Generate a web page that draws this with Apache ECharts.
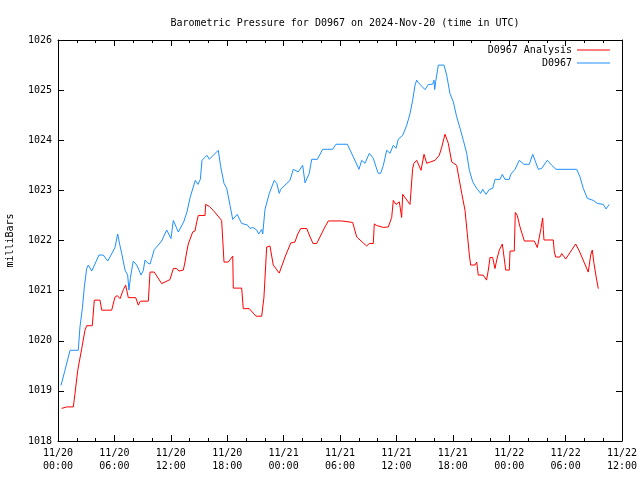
<!DOCTYPE html>
<html><head><meta charset="utf-8">
<script src="https://cdn.jsdelivr.net/npm/echarts@6/dist/echarts.min.js"></script>
<style>html,body{margin:0;padding:0;background:#fff}#c{width:640px;height:480px}</style>
</head><body><div id="c"></div>
<script>
// hours since 2024-11-20 00:00 UTC
const xTickLabels = ['11/20\n00:00','11/20\n06:00','11/20\n12:00','11/20\n18:00','11/21\n00:00','11/21\n06:00','11/21\n12:00','11/21\n18:00','11/22\n00:00','11/22\n06:00','11/22\n12:00'];
const yTickLabels = ['1018','1019','1020','1021','1022','1023','1024','1025','1026'];

const analysisHours = [0.39,0.93,1.63,1.81,2.10,2.52,2.87,3.05,3.65,3.86,4.47,4.65,5.71,6.06,6.31,6.60,6.95,7.20,7.31,7.48,8.27,8.54,8.76,9.61,9.79,10.24,11.03,11.20,11.91,12.10,12.27,12.63,12.87,13.33,13.51,13.69,13.86,14.04,14.33,14.57,14.76,14.93,15.64,15.71,16.10,16.52,17.41,17.59,17.66,18.12,18.59,18.65,19.54,19.71,20.35,21.06,21.67,21.91,22.20,22.55,22.90,23.54,24.15,24.76,25.21,25.46,25.82,26.46,26.73,27.13,27.52,28.40,28.76,30.18,31.35,31.78,32.84,33.12,33.54,33.65,33.90,34.61,35.14,35.50,35.67,35.96,36.31,36.56,36.67,37.45,37.73,37.87,38.16,38.62,38.94,39.22,39.39,40.11,40.56,40.82,41.17,41.52,41.88,42.41,42.95,43.30,43.54,43.76,43.90,44.36,44.54,44.71,45.24,45.59,45.78,45.96,46.24,46.49,46.67,46.95,47.27,47.48,47.63,48.01,48.09,48.54,48.65,48.86,49.15,49.61,50.67,50.99,51.20,51.38,51.56,51.63,51.70,52.69,52.80,52.95,53.40,53.59,54.01,55.07,55.46,56.41,56.67,56.84,57.02,57.31,57.48];
const analysisValues = [1018.65,1018.68,1018.68,1018.95,1019.41,1019.84,1020.21,1020.30,1020.30,1020.81,1020.81,1020.61,1020.61,1020.87,1020.90,1020.84,1021.02,1021.11,1021.01,1020.86,1020.86,1020.71,1020.79,1020.79,1021.37,1021.37,1021.14,1021.17,1021.22,1021.24,1021.44,1021.44,1021.39,1021.41,1021.57,1021.77,1021.93,1021.95,1022.17,1022.19,1022.37,1022.50,1022.50,1022.72,1022.68,1022.60,1022.40,1022.37,1021.57,1021.57,1021.69,1021.05,1021.05,1020.64,1020.64,1020.49,1020.49,1020.87,1021.87,1021.89,1021.51,1021.35,1021.67,1021.95,1021.97,1022.11,1022.24,1022.24,1022.11,1021.94,1021.94,1022.27,1022.39,1022.39,1022.36,1022.07,1021.89,1021.94,1021.94,1022.33,1022.30,1022.26,1022.27,1022.46,1022.80,1022.72,1022.77,1022.46,1022.92,1022.72,1023.44,1023.54,1023.60,1023.40,1023.72,1023.54,1023.55,1023.60,1023.70,1023.86,1024.12,1023.94,1023.57,1023.50,1022.94,1022.60,1022.14,1021.71,1021.51,1021.51,1021.57,1021.31,1021.31,1021.21,1021.41,1021.66,1021.66,1021.44,1021.61,1021.81,1021.93,1021.93,1021.41,1021.41,1021.79,1021.79,1022.56,1022.50,1022.27,1021.99,1021.99,1021.86,1021.86,1022.24,1022.45,1022.22,1022.01,1022.01,1021.77,1021.67,1021.67,1021.74,1021.63,1021.93,1021.79,1021.37,1021.71,1021.81,1021.54,1021.21,1021.04];

const stationHours = [0.32,0.74,1.28,2.16,2.34,2.59,2.80,3.05,3.22,3.59,4.12,4.36,4.82,5.29,5.64,6.06,6.35,6.60,6.78,7.13,7.41,7.55,7.69,7.84,8.01,8.37,8.62,8.83,9.07,9.26,9.54,9.79,9.97,10.24,10.67,11.03,11.56,12.02,12.27,12.80,12.98,13.37,13.72,14.07,14.61,14.89,15.14,15.32,15.85,16.10,16.52,17.05,17.31,17.66,17.95,18.30,18.59,19.07,19.54,20.14,20.43,20.71,21.14,21.35,21.67,21.78,22.02,22.20,22.48,23.01,23.27,23.54,23.69,24.68,25.03,25.56,26.03,26.28,26.73,26.99,27.59,28.16,29.22,29.57,30.78,31.41,32.02,32.31,32.66,33.12,33.54,33.83,34.07,34.33,34.61,34.97,35.32,35.67,35.96,36.20,36.67,37.10,37.45,37.73,37.98,38.16,38.33,38.69,39.04,39.39,39.86,40.00,40.07,40.18,40.46,41.06,41.35,41.70,42.05,42.41,42.77,43.12,43.48,43.76,44.12,44.54,44.97,45.18,45.53,45.89,46.24,46.49,47.02,47.27,47.55,48.01,48.16,48.62,49.07,49.57,50.14,50.50,50.74,51.10,51.46,52.05,52.52,52.98,55.18,55.53,55.88,56.31,56.95,57.37,58.01,58.30,58.64];
const stationValues = [1019.11,1019.41,1019.81,1019.81,1020.28,1020.64,1021.07,1021.44,1021.51,1021.39,1021.61,1021.71,1021.71,1021.59,1021.71,1021.86,1022.13,1021.89,1021.74,1021.41,1021.31,1021.01,1021.24,1021.41,1021.59,1021.51,1021.41,1021.31,1021.40,1021.61,1021.55,1021.53,1021.64,1021.82,1021.91,1021.99,1022.21,1022.04,1022.40,1022.17,1022.14,1022.37,1022.57,1022.87,1023.20,1023.12,1023.22,1023.60,1023.70,1023.62,1023.70,1023.80,1023.47,1023.14,1023.04,1022.70,1022.42,1022.52,1022.34,1022.31,1022.24,1022.26,1022.21,1022.13,1022.22,1022.13,1022.62,1022.64,1022.94,1023.20,1023.14,1022.94,1023.02,1023.20,1023.42,1023.37,1023.50,1023.15,1023.34,1023.62,1023.62,1023.82,1023.82,1023.92,1023.92,1023.67,1023.42,1023.60,1023.54,1023.74,1023.64,1023.47,1023.34,1023.34,1023.50,1023.80,1023.74,1023.90,1023.84,1024.02,1024.10,1024.30,1024.53,1024.80,1025.10,1025.20,1025.15,1025.08,1025.01,1025.11,1025.12,1025.20,1025.01,1025.17,1025.50,1025.50,1025.30,1024.93,1024.77,1024.47,1024.24,1024.00,1023.74,1023.40,1023.17,1023.04,1022.94,1023.02,1022.92,1023.02,1023.04,1023.22,1023.22,1023.32,1023.22,1023.22,1023.32,1023.42,1023.60,1023.52,1023.52,1023.72,1023.60,1023.42,1023.44,1023.60,1023.50,1023.42,1023.42,1023.27,1023.04,1022.84,1022.80,1022.74,1022.72,1022.63,1022.72];

const seriesNames = ['D0967 Analysis','D0967'];
const seriesColors = ['#ff0000','#1e90ff'];

const zip = (a,b) => a.map((v,i)=>[v,b[i]]);
const FONT = 'DejaVu Sans Mono';
const chart = echarts.init(document.getElementById('c'), null, {renderer:'canvas'});

const xBase = {
  type:'value', min:0, max:60, interval:6,
  axisLine:{show:true, onZero:false, lineStyle:{color:'#000', width:1}},
  axisTick:{show:true, inside:true, length:6, lineStyle:{color:'#000'}},
  minorTick:{show:true, splitNumber:3, length:3, lineStyle:{color:'#000'}},
  splitLine:{show:false}
};
const yBase = {
  type:'value', min:1018, max:1026, interval:1,
  axisLine:{show:true, onZero:false, lineStyle:{color:'#000', width:1}},
  axisTick:{show:true, inside:true, length:6, lineStyle:{color:'#000'}},
  splitLine:{show:false}
};

chart.setOption({
  animation:false,
  backgroundColor:'#fff',
  title:{text:'Barometric Pressure for D0967 on 2024-Nov-20 (time in UTC)', left:340, textAlign:'center', top:13,
    textStyle:{fontFamily:FONT, fontSize:10, fontWeight:'normal', color:'#000'}},
  legend:[
    {data:[seriesNames[0]], right:30, top:45, align:'right', itemWidth:33, itemHeight:1, itemGap:0, icon:'rect',
     textStyle:{fontFamily:FONT, fontSize:10, color:'#000'}, padding:0},
    {data:[seriesNames[1]], right:30, top:58, align:'right', itemWidth:33, itemHeight:1, itemGap:0, icon:'rect',
     textStyle:{fontFamily:FONT, fontSize:10, color:'#000'}, padding:0}
  ],
  grid:{left:58, right:18, top:40, bottom:39, show:false, containLabel:false, outerBoundsMode:'none'},
  xAxis:[
    Object.assign({}, xBase, {position:'bottom',
      axisLabel:{show:true, margin:6, fontFamily:FONT, fontSize:10, color:'#000', lineHeight:13,
        formatter:(v)=>xTickLabels[Math.round(v/6)]}}),
    Object.assign({}, xBase, {position:'top', axisLabel:{show:false}})
  ],
  yAxis:[
    Object.assign({}, yBase, {position:'left', name:'milliBars', nameLocation:'middle', nameGap:43, nameRotate:90,
      nameTextStyle:{fontFamily:FONT, fontSize:10, color:'#000'},
      axisLabel:{show:true, margin:6, fontFamily:FONT, fontSize:10, color:'#000',
        formatter:(v)=>yTickLabels[Math.round(v-1018)]}}),
    Object.assign({}, yBase, {position:'right', axisLabel:{show:false}})
  ],
  series:[
    {name:seriesNames[0], type:'line', data:zip(analysisHours, analysisValues), showSymbol:false, symbol:'none',
     lineStyle:{color:seriesColors[0], width:1}, itemStyle:{color:seriesColors[0]}, xAxisIndex:0, yAxisIndex:0},
    {name:seriesNames[1], type:'line', data:zip(stationHours, stationValues), showSymbol:false, symbol:'none',
     lineStyle:{color:seriesColors[1], width:1}, itemStyle:{color:seriesColors[1]}, xAxisIndex:0, yAxisIndex:0}
  ]
});
</script></body></html>
